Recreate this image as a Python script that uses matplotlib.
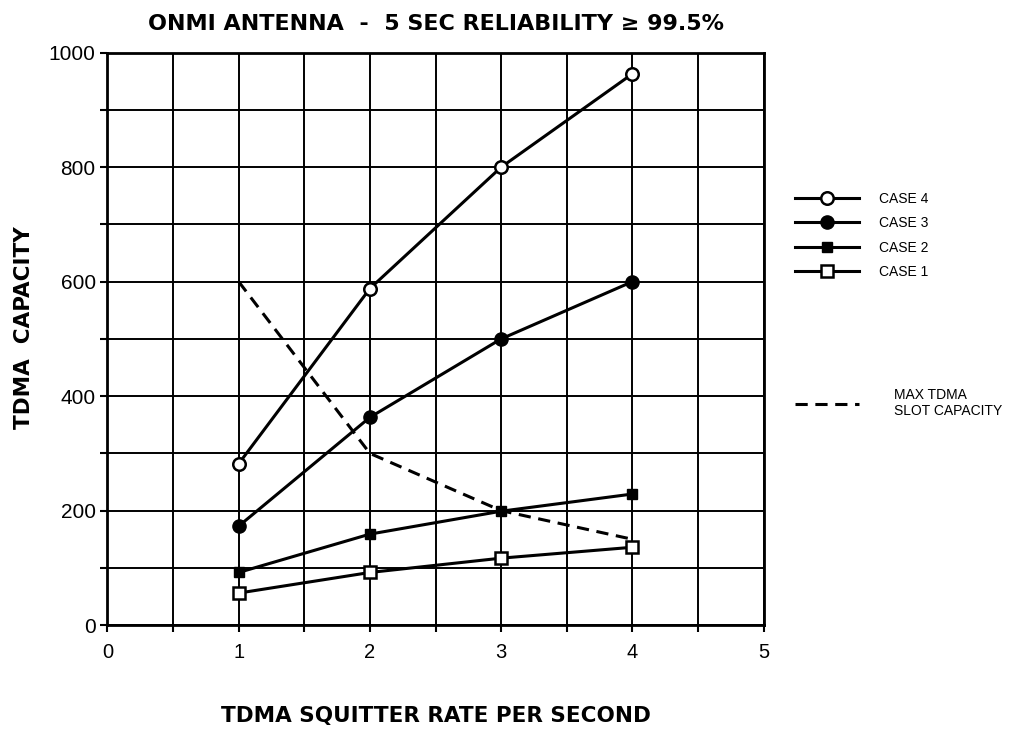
import matplotlib
matplotlib.use("Agg")
import matplotlib.pyplot as plt
from matplotlib.lines import Line2D
from matplotlib.ticker import MultipleLocator

plt.rcParams['font.family'] = ['Liberation Sans', 'DejaVu Sans']

rate = [1, 2, 3, 4]
case4 = [282, 588, 800, 963]
case3 = [173, 363, 500, 600]
case2 = [92, 159, 199, 229]
case1 = [56, 92, 117, 136]
max_slot = [600, 300, 200, 150]

fig = plt.figure(figsize=(10.14, 7.32), dpi=100)
ax = fig.add_axes([0.106, 0.146, 0.647, 0.782])

lw = 2.2
ax.plot(rate, max_slot, color='black', lw=lw, ls=(0, (4, 2.5)), zorder=3)
ax.plot(rate, case1, color='black', lw=lw, marker='s', ms=9, mfc='white', mec='black', mew=1.8, zorder=4)
ax.plot(rate, case2, color='black', lw=lw, marker='s', ms=7, mfc='black', mec='black', zorder=4)
ax.plot(rate, case3, color='black', lw=lw, marker='o', ms=9.5, mfc='black', mec='black', zorder=4)
ax.plot(rate, case4, color='black', lw=lw, marker='o', ms=9, mfc='white', mec='black', mew=1.8, zorder=4)

ax.set_xlim(0, 5)
ax.set_ylim(0, 1000)
ax.xaxis.set_major_locator(MultipleLocator(1))
ax.xaxis.set_minor_locator(MultipleLocator(0.5))
ax.yaxis.set_major_locator(MultipleLocator(200))
ax.yaxis.set_minor_locator(MultipleLocator(100))
ax.grid(True, which='both', color='black', lw=1.4)
ax.set_axisbelow(True)
for s in ax.spines.values():
    s.set_linewidth(2)
ax.tick_params(which='both', direction='out', length=5, width=1.5, colors='black')
ax.tick_params(axis='y', labelsize=15)
ax.tick_params(axis='x', labelsize=14.5, pad=8)

bold = dict(family=['DejaVu Sans'], fontweight='bold')
ax.set_title('ONMI ANTENNA  -  5 SEC RELIABILITY \u2265 99.5%', fontsize=16, pad=16, **bold)
ax.set_xlabel('TDMA SQUITTER RATE PER SECOND', fontsize=15.5, **bold)
ax.set_ylabel('TDMA  CAPACITY', fontsize=15.5, **bold)
ax.xaxis.set_label_coords(0.5, -0.142)
ax.yaxis.set_label_coords(-0.112, 0.52)

h4 = Line2D([], [], color='black', lw=lw, marker='o', ms=9, mfc='white', mew=1.8)
h3 = Line2D([], [], color='black', lw=lw, marker='o', ms=9.5, mfc='black')
h2 = Line2D([], [], color='black', lw=lw, marker='s', ms=7, mfc='black')
h1 = Line2D([], [], color='black', lw=lw, marker='s', ms=9, mfc='white', mew=1.8)
fig.legend([h4, h3, h2, h1], ['CASE 4', 'CASE 3', 'CASE 2', 'CASE 1'],
           loc='upper left', bbox_to_anchor=(0.772, 0.755), frameon=False,
           fontsize=10, handlelength=4.6, labelspacing=0.75, handletextpad=1.4)
hd = Line2D([], [], color='black', lw=lw, ls=(0, (4, 2.5)))
fig.legend([hd], ['MAX TDMA\nSLOT CAPACITY'], loc='upper left', bbox_to_anchor=(0.772, 0.487),
           frameon=False, fontsize=10, handlelength=4.6, handletextpad=2.5)

fig.savefig('out.png', dpi=100)
